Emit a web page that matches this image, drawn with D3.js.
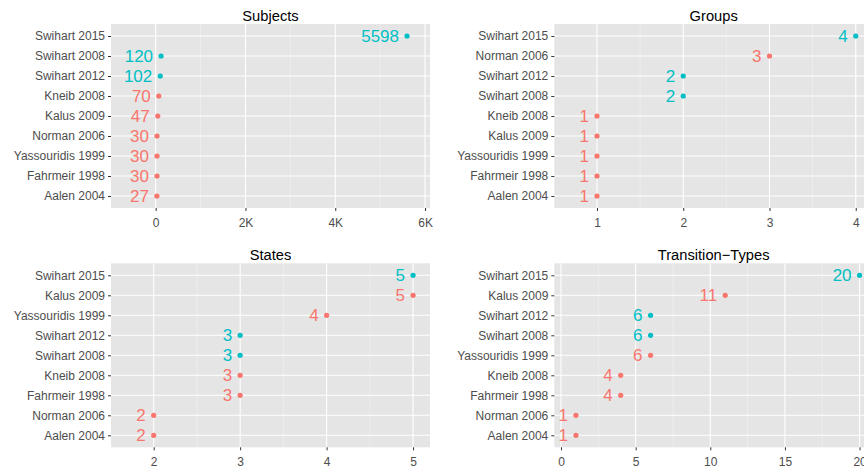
<!DOCTYPE html>
<html>
<head>
<meta charset="utf-8">
<script src="https://cdn.jsdelivr.net/npm/d3@7.9.0/dist/d3.min.js"></script>
<style>
  html, body { margin: 0; padding: 0; background: white; }
  svg { display: block; font-family: "Liberation Sans", Arial, Helvetica, sans-serif; }
</style>
</head>
<body>
<div id="chart"></div>
<script>
// Data for each panel (top to bottom order)
const subjectsStudies = ["Swihart 2015", "Swihart 2008", "Swihart 2012", "Kneib 2008", "Kalus 2009", "Norman 2006", "Yassouridis 1999", "Fahrmeir 1998", "Aalen 2004"];
const subjectsValues = [5598, 120, 102, 70, 47, 30, 30, 30, 27];

const groupsStudies = ["Swihart 2015", "Norman 2006", "Swihart 2012", "Swihart 2008", "Kneib 2008", "Kalus 2009", "Yassouridis 1999", "Fahrmeir 1998", "Aalen 2004"];
const groupsValues = [4, 3, 2, 2, 1, 1, 1, 1, 1];

const statesStudies = ["Swihart 2015", "Kalus 2009", "Yassouridis 1999", "Swihart 2012", "Swihart 2008", "Kneib 2008", "Fahrmeir 1998", "Norman 2006", "Aalen 2004"];
const statesValues = [5, 5, 4, 3, 3, 3, 3, 2, 2];

const transStudies = ["Swihart 2015", "Kalus 2009", "Swihart 2012", "Swihart 2008", "Yassouridis 1999", "Kneib 2008", "Fahrmeir 1998", "Norman 2006", "Aalen 2004"];
const transValues = [20, 11, 6, 6, 6, 4, 4, 1, 1];

const subjectsTicks = [0, 2000, 4000, 6000];
const subjectsTickLabels = ["0", "2K", "4K", "6K"];
const groupsTicks = [1, 2, 3, 4];
const statesTicks = [2, 3, 4, 5];
const transTicks = [0, 5, 10, 15, 20];

const width = 864, height = 468;
const svg = d3.select("#chart").append("svg")
    .attr("width", width)
    .attr("height", height);

const colSwihart = "#00BFC4";
const colOther = "#F8766D";

function drawPanel(opts) {
    const { title, studies, values, ticks, tickLabels, domain, box } = opts;
    const g = svg.append("g");

    const x = d3.scaleLinear().domain(domain).range([box.left, box.right]);
    const y = d3.scalePoint().domain(studies).range([box.top, box.bottom]).padding(0.6);

    // panel background (right panels run past the window edge, like the original)
    g.append("rect")
        .attr("x", box.left).attr("y", box.top)
        .attr("width", box.right - box.left)
        .attr("height", box.bottom - box.top)
        .attr("fill", "#E5E5E5");

    // minor gridlines at the midpoints of the major ticks
    const minor = [];
    for (let i = 0; i < ticks.length - 1; i++) minor.push((ticks[i] + ticks[i + 1]) / 2);
    const step = ticks[1] - ticks[0];
    minor.push(ticks[0] - step / 2, ticks[ticks.length - 1] + step / 2);
    g.selectAll(".minor")
        .data(minor.filter(v => v > domain[0] && v < domain[1]))
        .join("line")
        .attr("x1", d => x(d)).attr("x2", d => x(d))
        .attr("y1", box.top).attr("y2", box.bottom)
        .attr("stroke", "#F2F2F2")
        .attr("stroke-width", 0.6);

    // major gridlines
    g.selectAll(".vmajor")
        .data(ticks)
        .join("line")
        .attr("x1", d => x(d)).attr("x2", d => x(d))
        .attr("y1", box.top).attr("y2", box.bottom)
        .attr("stroke", "white")
        .attr("stroke-width", 1.1);
    g.selectAll(".hmajor")
        .data(studies)
        .join("line")
        .attr("x1", box.left).attr("x2", box.right)
        .attr("y1", d => y(d)).attr("y2", d => y(d))
        .attr("stroke", "white")
        .attr("stroke-width", 1.1);

    // axes
    const xAxis = d3.axisBottom(x)
        .tickValues(ticks)
        .tickSize(3)
        .tickPadding(7.5)
        .tickFormat((d, i) => tickLabels ? tickLabels[i] : d);
    const xg = g.append("g")
        .attr("transform", `translate(0,${box.bottom})`)
        .call(xAxis);
    xg.select(".domain").remove();
    xg.selectAll(".tick line").attr("stroke", "#333333");
    xg.selectAll(".tick text")
        .attr("fill", "#4D4D4D")
        .attr("font-size", 12)
        .attr("font-family", "Liberation Sans, Arial, sans-serif");

    const yAxis = d3.axisLeft(y).tickSize(3).tickPadding(3);
    const yg = g.append("g")
        .attr("transform", `translate(${box.left},0)`)
        .call(yAxis);
    yg.select(".domain").remove();
    yg.selectAll(".tick line").attr("stroke", "#333333");
    yg.selectAll(".tick text")
        .attr("fill", "#4D4D4D")
        .attr("font-size", 12)
        .attr("font-family", "Liberation Sans, Arial, sans-serif");

    // title
    g.append("text")
        .attr("x", (box.left + box.right) / 2)
        .attr("y", box.top - 3)
        .attr("text-anchor", "middle")
        .attr("fill", "black")
        .style("font-size", "14.7px")
        .text(title);

    const rows = studies.map((s, i) => ({ study: s, value: values[i] }));
    const color = d => d.study.startsWith("Swihart") ? colSwihart : colOther;

    g.selectAll(".dot")
        .data(rows)
        .join("circle")
        .attr("cx", d => x(d.value))
        .attr("cy", d => y(d.study))
        .attr("r", 2.6)
        .attr("fill", color);

    g.selectAll(".lab")
        .data(rows)
        .join("text")
        .attr("x", d => x(d.value) - 8)
        .attr("y", d => y(d.study))
        .attr("dy", "0.36em")
        .attr("text-anchor", "end")
        .attr("fill", color)
        .style("font-size", "17px")
        .text(d => d.value);
}

drawPanel({
    title: "Subjects", studies: subjectsStudies, values: subjectsValues,
    ticks: subjectsTicks, tickLabels: subjectsTickLabels, domain: [-995, 6110],
    box: { left: 111, right: 430, top: 24, bottom: 208 }
});
drawPanel({
    title: "Groups", studies: groupsStudies, values: groupsValues,
    ticks: groupsTicks, domain: [0.505, 4.2],
    box: { left: 554.3, right: 873, top: 24, bottom: 208 }
});
drawPanel({
    title: "States", studies: statesStudies, values: statesValues,
    ticks: statesTicks, domain: [1.506, 5.196],
    box: { left: 111, right: 430, top: 263.3, bottom: 447.3 }
});
drawPanel({
    title: "Transition\u2212Types", studies: transStudies, values: transValues,
    ticks: transTicks, domain: [-0.45, 20.9],
    box: { left: 554.3, right: 873, top: 263.3, bottom: 447.3 }
});
</script>
</body>
</html>
